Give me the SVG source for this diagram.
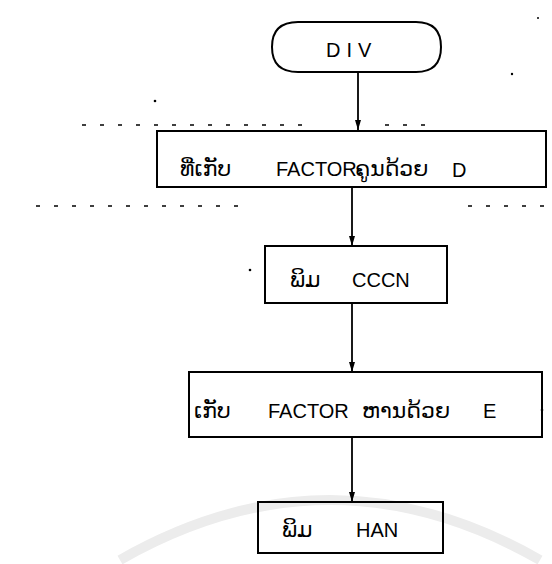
<svg xmlns="http://www.w3.org/2000/svg" width="552" height="564" viewBox="0 0 552 564">
<style>
.box{fill:none;stroke:#000;stroke-width:2}
.con{fill:none;stroke:#000;stroke-width:1.8}
.lao{font-family:"DejaVu Sans","Noto Sans",sans-serif;font-size:22px;fill:#000}
.lat{font-family:"Liberation Sans","DejaVu Sans",sans-serif;font-size:20px;fill:#000}
.noise{fill:none;stroke:#000;stroke-width:1.5;stroke-dasharray:4 14}
</style>
<defs>
<marker id="arr" markerWidth="10" markerHeight="10" refX="10" refY="5" orient="auto" markerUnits="userSpaceOnUse" viewBox="0 0 10 10">
<path d="M0,2 L10,5 L0,8 Z" fill="#000"/>
</marker>
</defs>
<rect width="552" height="564" fill="#fff"/>
<path d="M120,560 Q330,440 540,560" fill="none" stroke="#ececec" stroke-width="10"/>
<g id="scan-marks">
<circle cx="155" cy="101" r="1.3" fill="#000"/>
<line class="noise" x1="82" y1="125" x2="310" y2="125"/>
<line class="noise" x1="385" y1="125" x2="435" y2="125"/>
<line class="noise" x1="36" y1="206" x2="240" y2="206"/>
<line class="noise" x1="468" y1="206" x2="548" y2="206"/>
<circle cx="512" cy="74" r="1.2" fill="#000"/>
<circle cx="538" cy="18" r="1" fill="#000"/>
<circle cx="250" cy="270" r="1.3" fill="#000"/>
<circle cx="542" cy="410" r="1.3" fill="#000"/>
</g>
<g id="connectors">
<line class="con" x1="358" y1="72" x2="358" y2="130" marker-end="url(#arr)"/>
<line class="con" x1="352" y1="188" x2="352" y2="246" marker-end="url(#arr)"/>
<line class="con" x1="352" y1="304" x2="352" y2="372" marker-end="url(#arr)"/>
<line class="con" x1="352" y1="438" x2="352" y2="502" marker-end="url(#arr)"/>
</g>
<g id="start">
<path class="box" d="M298,22 L416,22 Q441,22 441,47 Q441,72 416,72 L298,72 Q272,72 272,47 Q272,22 298,22 Z"/>
<text class="lat" x="326" y="57" font-size="23" letter-spacing="6">DIV</text>
</g>
<g id="step1">
<rect class="box" x="157" y="131" width="389" height="56"/>
<text class="lao" x="180" y="176">ທີ່ເກັບ</text>
<text class="lat" x="276" y="176">FACTOR</text>
<text class="lao" x="355" y="176">ຄູນດ້ວຍ</text>
<text class="lat" x="452" y="177" font-size="22">D</text>
</g>
<g id="step2">
<rect class="box" x="265" y="246" width="182" height="57"/>
<text class="lao" x="290" y="287">ພິມ</text>
<text class="lat" x="352" y="287" font-size="19">CCCN</text>
</g>
<g id="step3">
<rect class="box" x="189" y="372" width="353" height="65"/>
<text class="lao" x="194" y="418">ເກັບ</text>
<text class="lat" x="268" y="418">FACTOR</text>
<text class="lao" x="362" y="418">ຫານດ້ວຍ</text>
<text class="lat" x="483" y="418" font-size="22">E</text>
</g>
<g id="step4">
<rect class="box" x="258" y="502" width="185" height="51"/>
<text class="lao" x="282" y="537">ພິມ</text>
<text class="lat" x="356" y="537">HAN</text>
</g>
</svg>
